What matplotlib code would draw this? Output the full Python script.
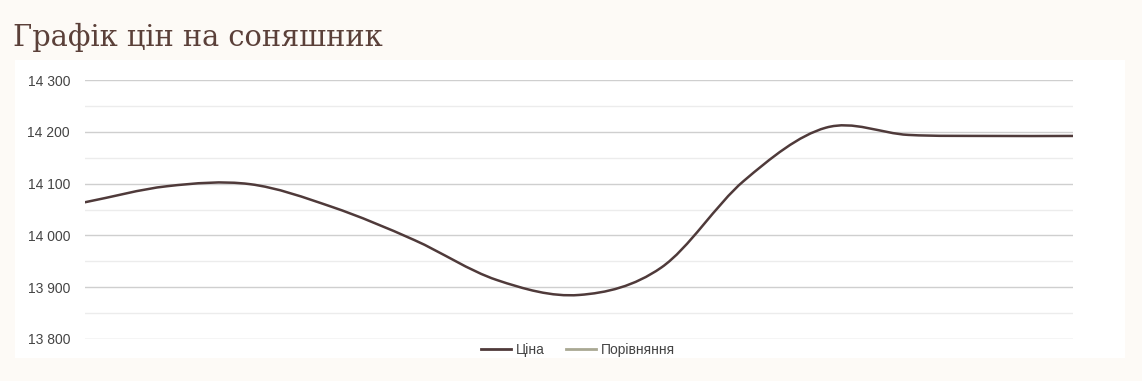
import numpy as np
import matplotlib
matplotlib.use("Agg")
from matplotlib import pyplot as plt
from matplotlib.path import Path
from matplotlib.patches import PathPatch, Rectangle
from matplotlib.lines import Line2D
from matplotlib.ticker import MultipleLocator, FuncFormatter

title = "Графік цін на соняшник"
series_names = ["Ціна", "Порівняння"]
prices = [14064, 14095, 14099, 14055, 13991, 13914, 13885,
          13938, 14105, 14208, 14194, 14192, 14192]
y_ticks = [13800, 13900, 14000, 14100, 14200, 14300]

bg = "#fdfaf6"
line_color = "#4f3a3a"
cmp_color = "#a9a893"

plt.rcParams["font.family"] = ["Liberation Sans", "DejaVu Sans"]

fig = plt.figure(figsize=(11.42, 3.81), dpi=100, facecolor=bg)
W, H = 1142, 381

# white card behind the chart
fig.patches.append(Rectangle((15 / W, 1 - 358 / H), 1110 / W, 298 / H,
                             transform=fig.transFigure, facecolor="white",
                             edgecolor="none", zorder=-10))

fig.text(13 / W, 1 - 46 / H, title, family="DejaVu Serif", fontsize=20.8,
         color="#5b4039", ha="left", va="baseline")

ax = fig.add_axes([85 / W, 1 - 339 / H, 988 / W, 259 / H])
ax.set_zorder(1)
ax.set_facecolor("white")
x = np.arange(len(prices))
ax.set_xlim(0, len(prices) - 1)
ax.set_ylim(13800, 14300)

ax.set_yticks(y_ticks)
ax.yaxis.set_minor_locator(MultipleLocator(50))
ax.yaxis.set_major_formatter(FuncFormatter(lambda v, p: f"{int(v):,}".replace(",", " ")))
ax.grid(which="major", axis="y", color="#cfcfcf", linewidth=1)
ax.grid(which="minor", axis="y", color="#ececec", linewidth=1)
ax.set_axisbelow(True)
ax.tick_params(axis="y", which="both", length=0, pad=10.8, labelsize=10, labelcolor="#444444")
ax.tick_params(axis="x", which="both", length=0, labelbottom=False)
for s in ax.spines.values():
    s.set_visible(False)

# smooth curve (uniform Catmull-Rom as cubic Bezier segments)
y = np.asarray(prices, dtype=float)
n = len(y)
slope = np.empty(n)
slope[1:-1] = (y[2:] - y[:-2]) / 2
slope[0] = y[1] - y[0]
slope[-1] = y[-1] - y[-2]
verts = [(x[0], y[0])]
codes = [Path.MOVETO]
for i in range(n - 1):
    verts += [(x[i] + 1 / 3, y[i] + slope[i] / 3),
              (x[i + 1] - 1 / 3, y[i + 1] - slope[i + 1] / 3),
              (x[i + 1], y[i + 1])]
    codes += [Path.CURVE4] * 3
ax.add_patch(PathPatch(Path(verts, codes), facecolor="none", edgecolor=line_color,
                       linewidth=1.8, capstyle="round"))

handles = [Line2D([], [], color=line_color, linewidth=2),
           Line2D([], [], color=cmp_color, linewidth=2)]
fig.legend(handles, series_names, loc="center", bbox_to_anchor=(578 / W, 1 - 350 / H),
           ncol=2, frameon=False, fontsize=10, handlelength=2.1, handletextpad=0.35,
           columnspacing=1.6, labelcolor="#444444")

fig.savefig("out.png", dpi=100, facecolor=bg)
